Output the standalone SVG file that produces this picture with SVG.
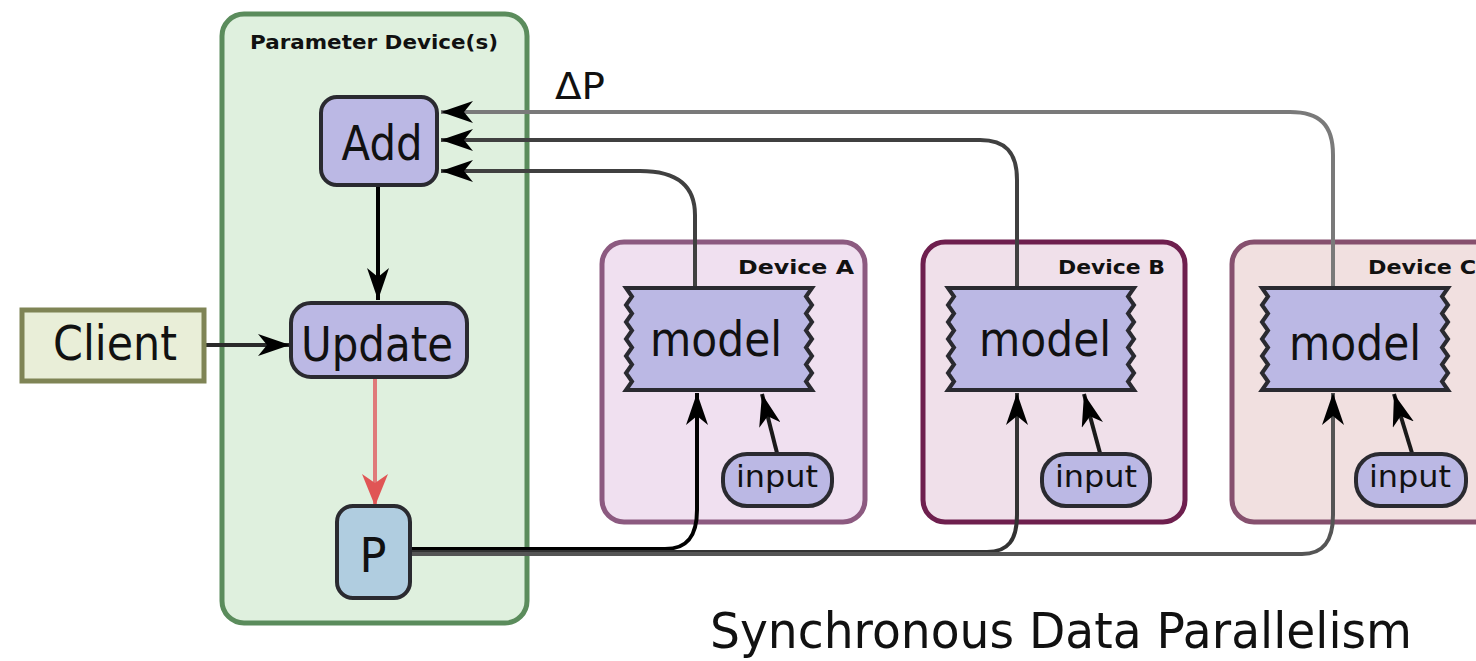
<svg xmlns="http://www.w3.org/2000/svg" width="1476" height="661" viewBox="0 0 1476 661">
  <defs>
    <style>
      .lbl { font-family: "DejaVu Sans", "Liberation Sans", sans-serif; fill: #111; }
      .big { font-size: 48px; }
      .small { font-size: 20px; font-weight: bold; }
      .node { fill: #bbb8e4; stroke: #2a2a30; stroke-width: 4; }
      .conn { fill: none; stroke-width: 4; }
    </style>
    <marker id="arr" markerUnits="userSpaceOnUse" markerWidth="34" markerHeight="22" refX="32" refY="11" orient="auto">
      <path d="M0,0 L32,11 L0,22 L9,11 Z" fill="#000"/>
    </marker>
    <marker id="arrRed" markerUnits="userSpaceOnUse" markerWidth="34" markerHeight="26" refX="32" refY="13" orient="auto">
      <path d="M0,0 L32,13 L0,26 L9,13 Z" fill="#e05555"/>
    </marker>
    <path id="modelShape" d="M0,0 H186 L180,8.5 L186,17 L180,25.5 L186,34 L180,42.5 L186,51 L180,59.5 L186,68 L180,76.5 L186,85 L180,93.5 L186,102 H0 L6,93.5 L0,85 L6,76.5 L0,68 L6,59.5 L0,51 L6,42.5 L0,34 L6,25.5 L0,17 L6,8.5 Z"/>
  </defs>
  <rect width="1476" height="661" fill="#ffffff"/>

  <g id="param-device">
    <rect x="222" y="14" width="305" height="609" rx="22" fill="#dff0de" stroke="#5b8c5c" stroke-width="5"/>
    <text class="lbl small" x="374" y="49" text-anchor="middle" textLength="248" lengthAdjust="spacingAndGlyphs">Parameter Device(s)</text>
  </g>

  <g id="device-a">
    <rect x="602" y="242" width="263" height="280" rx="22" fill="#f0e0f0" stroke="#8c5a80" stroke-width="5"/>
    <text class="lbl small" x="854" y="274" text-anchor="end" textLength="116" lengthAdjust="spacingAndGlyphs">Device A</text>
  </g>
  <g id="device-b">
    <rect x="923" y="242" width="262" height="280" rx="22" fill="#f0e0ea" stroke="#6e1f4e" stroke-width="5"/>
    <text class="lbl small" x="1165" y="274" text-anchor="end" textLength="107" lengthAdjust="spacingAndGlyphs">Device B</text>
  </g>
  <g id="device-c">
    <rect x="1232" y="242" width="270" height="280" rx="22" fill="#f1e0e0" stroke="#86506e" stroke-width="5"/>
    <text class="lbl small" x="1476" y="274" text-anchor="end" textLength="108" lengthAdjust="spacingAndGlyphs">Device C</text>
  </g>

  <g id="connectors">
    <path class="conn" stroke="#000" d="M378,186 V300" marker-end="url(#arr)"/>
    <path class="conn" stroke="#2a2a2a" d="M205,345 H290" marker-end="url(#arr)"/>
    <path class="conn" stroke="#e07a7a" d="M375,378 V506" marker-end="url(#arrRed)"/>
    <path class="conn" stroke="#7a7a7a" stroke-width="5" d="M1333,288 V155 C1333,125 1320,112 1290,112 H441" marker-end="url(#arr)"/>
    <path class="conn" stroke="#404040" d="M1017,288 V180 C1017,152 1005,140 980,140 H441" marker-end="url(#arr)"/>
    <path class="conn" stroke="#404040" d="M695,288 V215 C695,188 680,171 640,171 H441" marker-end="url(#arr)"/>
    <path class="conn" stroke="#000" d="M410,549 H665 C688,549 697,535 697,510 V393" marker-end="url(#arr)"/>
    <path class="conn" stroke="#333" d="M410,552 H987 C1008,552 1017,540 1017,515 V393" marker-end="url(#arr)"/>
    <path class="conn" stroke="#555" d="M410,554 H1302 C1324,554 1333,540 1333,515 V393" marker-end="url(#arr)"/>
    <path class="conn" stroke="#1a1a1a" d="M777,453 L762,394" marker-end="url(#arr)"/>
    <path class="conn" stroke="#1a1a1a" d="M1100,453 L1084,394" marker-end="url(#arr)"/>
    <path class="conn" stroke="#1a1a1a" d="M1412,453 L1394,394" marker-end="url(#arr)"/>
  </g>

  <g id="client">
    <rect x="22" y="310" width="182" height="71" fill="#e9eed8" stroke="#7f8455" stroke-width="5"/>
    <text class="lbl big" x="115" y="360" text-anchor="middle" textLength="124" lengthAdjust="spacingAndGlyphs">Client</text>
  </g>

  <g id="add">
    <rect class="node" x="321" y="97" width="116" height="88" rx="16"/>
    <text class="lbl big" x="382" y="160" text-anchor="middle" textLength="81" lengthAdjust="spacingAndGlyphs">Add</text>
  </g>

  <g id="update">
    <rect class="node" x="291" y="303" width="176" height="74" rx="20"/>
    <text class="lbl big" x="377" y="361" text-anchor="middle" textLength="152" lengthAdjust="spacingAndGlyphs">Update</text>
  </g>

  <g id="p">
    <rect x="337" y="506" width="73" height="92" rx="16" fill="#b0cde0" stroke="#2a2a30" stroke-width="4"/>
    <text class="lbl big" x="373" y="572" text-anchor="middle" textLength="27" lengthAdjust="spacingAndGlyphs">P</text>
  </g>

  <g id="model-a">
    <use href="#modelShape" x="626" y="288" class="node"/>
    <text class="lbl big" x="716" y="356" text-anchor="middle" textLength="132" lengthAdjust="spacingAndGlyphs">model</text>
  </g>
  <g id="model-b">
    <use href="#modelShape" x="948" y="288" class="node"/>
    <text class="lbl big" x="1045" y="356" text-anchor="middle" textLength="132" lengthAdjust="spacingAndGlyphs">model</text>
  </g>
  <g id="model-c">
    <use href="#modelShape" x="1262" y="288" class="node"/>
    <text class="lbl big" x="1355" y="360" text-anchor="middle" textLength="132" lengthAdjust="spacingAndGlyphs">model</text>
  </g>

  <g id="input-a">
    <rect class="node" x="723" y="454" width="109" height="52" rx="24"/>
    <text class="lbl" font-size="30" x="777" y="487" text-anchor="middle" textLength="82" lengthAdjust="spacingAndGlyphs">input</text>
  </g>
  <g id="input-b">
    <rect class="node" x="1042" y="454" width="108" height="52" rx="24"/>
    <text class="lbl" font-size="30" x="1096" y="487" text-anchor="middle" textLength="82" lengthAdjust="spacingAndGlyphs">input</text>
  </g>
  <g id="input-c">
    <rect class="node" x="1356" y="454" width="110" height="52" rx="24"/>
    <text class="lbl" font-size="30" x="1410" y="487" text-anchor="middle" textLength="82" lengthAdjust="spacingAndGlyphs">input</text>
  </g>

  <text class="lbl" font-size="38" x="555" y="99" textLength="50" lengthAdjust="spacingAndGlyphs">ΔP</text>
  <text class="lbl" font-size="50" x="710" y="648" textLength="702" lengthAdjust="spacingAndGlyphs">Synchronous Data Parallelism</text>
</svg>
